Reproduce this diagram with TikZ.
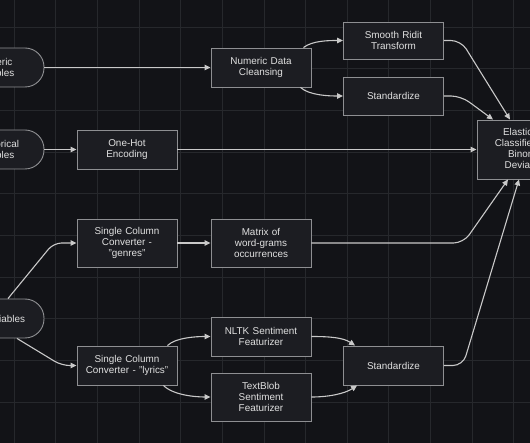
\documentclass[tikz,border=0pt]{standalone}
\usepackage{fontspec}
\setmainfont{Liberation Sans}
\usetikzlibrary{arrows.meta}
\definecolor{bgcol}{HTML}{121317}
\definecolor{gridcol}{HTML}{26282C}
\definecolor{boxfill}{HTML}{1C1D22}
\definecolor{boxborder}{HTML}{8E8F92}
\definecolor{txtcol}{HTML}{E0E0E0}
\definecolor{edgecol}{HTML}{C9C9C9}
\tikzset{
  gridline/.style={draw=gridcol, line width=0.8pt},
  box/.style={draw=boxborder, fill=boxfill, line width=0.9pt, minimum width=100pt,
    text width=98pt, align=center, inner sep=0pt, text=txtcol,
    font=\fontsize{9.9}{10.8}\selectfont},
  pill/.style={box, rounded corners=19pt},
  edge/.style={draw=edgecol, line width=1.1pt, -{Triangle[length=6pt,width=5.5pt]}}
}
\begin{document}
\begin{tikzpicture}[x=1pt,y=-1pt]
\useasboundingbox (0,0) rectangle (530,443);
\fill[bgcol] (0,0) rectangle (530,443);
\clip (0,0) rectangle (530,443);
\foreach \k in {0,...,12} \draw[gridline] ({14+41.65*\k},0) -- ++(0,443);
\foreach \k in {0,...,9} \draw[gridline] (0,{27+41.7*\k}) -- ++(530,0);

% nodes
\node[pill, minimum height=39pt] (nv) at (-6,67.5) {Numeric\\Variables};
\node[pill, minimum height=39pt] (cv) at (-6,149.5) {Categorical\\Variables};
\node[pill, minimum height=39pt] (tv) at (-6,318.5) {Text Variables};
\node[box, minimum height=39pt] (ohe) at (127,149.5) {One-Hot\\Encoding};
\node[box, minimum height=39pt] (ndc) at (261,67.5) {Numeric Data\\Cleansing};
\node[box, minimum height=37pt] (sr) at (393.5,40.5) {Smooth Ridit\\Transform};
\node[box, minimum height=38pt] (st1) at (393.5,96) {Standardize};
\node[box, minimum height=59pt] (el) at (527,149.5) {Elastic-Net\\Classifier (L2 /\\Binomial\\Deviance)};
\node[box, minimum height=48pt] (sccg) at (127,243) {Single Column\\Converter -\\"genres"};
\node[box, minimum height=48pt] (mat) at (261,243) {Matrix of\\word-grams\\occurrences};
\node[box, minimum height=39pt] (nltk) at (261,336.5) {NLTK Sentiment\\Featurizer};
\node[box, minimum height=39pt] (sccl) at (127,365.5) {Single Column\\Converter - "lyrics"};
\node[box, minimum height=48pt] (tb) at (261,397) {TextBlob\\Sentiment\\Featurizer};
\node[box, minimum height=39pt] (st2) at (393.5,365.5) {Standardize};

% edges
\draw[edge] (nv.east) -- (ndc.west);
\draw[edge] (cv.east) -- (ohe.west);
\draw[edge] (ohe.east) -- (el.west);
\draw[edge] ([xshift=-8pt]ndc.north east) .. controls +(9,-7) and +(-14,0) .. (sr.west);
\draw[edge] ([xshift=-11pt]ndc.south east) .. controls +(9,8) and +(-14,0) .. (st1.west);
\draw[edge, rounded corners=10pt] (sr.east) -- ++(17,0) -- ([xshift=-17pt]el.north);
\draw[edge, rounded corners=10pt] (st1.east) -- ++(17,0) -- ([xshift=-34pt]el.north);
\draw[edge, rounded corners=10pt] (mat.east) -- ++(152,0) -- ([xshift=-19pt]el.south);
\draw[edge, rounded corners=10pt] (st2.east) -- ++(19,0) -- ([xshift=-8pt]el.south);
\draw[edge, rounded corners=8pt] ([xshift=14pt]tv.north) -- ([xshift=-23pt]sccg.west) -- (sccg.west);
\draw[edge, rounded corners=8pt] ([xshift=23pt]tv.south) -- ([xshift=-15pt]sccl.west) -- (sccl.west);
\draw[edge] (sccg.east) -- (mat.west);
\draw[edge] ([xshift=-10pt]sccl.north east) .. controls +(8,-8) and +(-14,0) .. (nltk.west);
\draw[edge] ([xshift=-14pt]sccl.south east) .. controls +(10,10) and +(-14,0) .. (tb.west);
\draw[edge] (nltk.east) .. controls +(18,0) and +(-12,-8) .. ([xshift=12pt]st2.north west);
\draw[edge] (tb.east) .. controls +(18,0) and +(-12,8) .. ([xshift=14pt]st2.south west);
\end{tikzpicture}
\end{document}
